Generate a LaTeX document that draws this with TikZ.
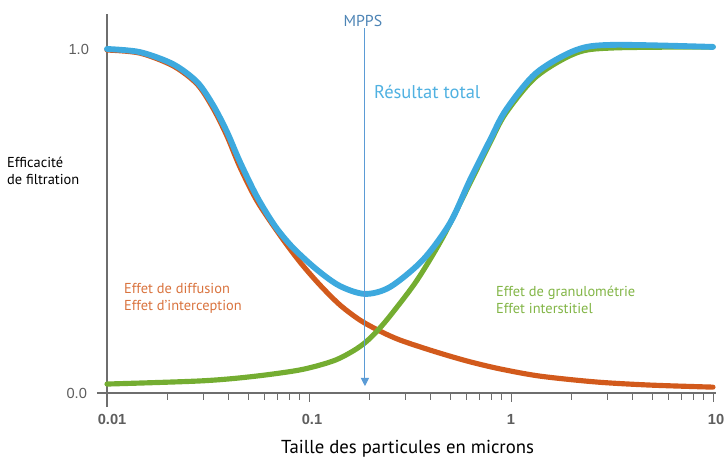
\documentclass[tikz,border=0pt]{standalone}
\usepackage{fontspec}
\setmainfont{PT Sans}
\newfontfamily\tickfont{Liberation Sans}
\usetikzlibrary{positioning, arrows.meta}
\definecolor{totalblue}{HTML}{3DA9DE}
\definecolor{diffred}{HTML}{D25A1C}
\definecolor{granugreen}{HTML}{74AD31}
\definecolor{mppsblue}{HTML}{5B9BD5}
\definecolor{axisgray}{HTML}{6E6E6E}
\tikzset{
axisline/.style={draw=axisgray, line width=1.2pt},
tickmark/.style={draw=axisgray, line width=0.8pt},
xticklabel/.style={font=\tickfont\bfseries\fontsize{12.5}{14}\selectfont, text=axisgray!85!black},
yticklabel/.style={font=\tickfont\fontsize{12.5}{14}\selectfont, text=axisgray!85!black, anchor=east},
curve/.style={line width=4.4pt, line cap=round, line join=round},
sidelabel/.style={font=\fontsize{12.3}{15}\selectfont, anchor=west, align=left},
}

\begin{document}
\begin{tikzpicture}[x=6.06cm, y=10.32cm]
    \useasboundingbox (-0.5297,-0.1948) rectangle (3.0644,1.1424);

    %axes
    \coordinate (xstart) at (-0.05,0);
    \coordinate (xend)   at (3.015,0);
    \coordinate (ytop)   at (0,1.102);
    \coordinate (ybot)   at (0,-0.041);
    \draw[axisline] (xstart)--(xend);
    \draw[axisline] (ybot)--(ytop);

    % ticks on log scale
    \foreach \d in {0,1,2}{
        \foreach \m in {2,...,9}{
            \draw[tickmark] ({\d+log10(\m)},0) -- ++(0,-0.020);
        }
    }
    \foreach \d in {1,2,3}{
        \draw[tickmark] (\d,0) -- ++(0,-0.026);
    }

    %tick labels
    \node[xticklabel] (t001) at (0.025,-0.0756) {0.01};
    \node[xticklabel]  (t01) at (1.015,-0.0756) {0.1};
    \node[xticklabel]   (t1) at (2.0,-0.0756)   {1};
    \node[xticklabel]  (t10) at (3.015,-0.0756) {10};
    \node[yticklabel]   (y1) at (-0.069,1.0)    {1.0};
    \node[yticklabel]   (y0) at (-0.079,0)      {0.0};

    %axis titles
    \node[font=\fontsize{16}{18}\selectfont, anchor=base, inner sep=0pt] (xtitle) at (1.488,-0.176) {Taille des particules en microns};
    \node[sidelabel, font=\fontsize{12.3}{14.5}\selectfont] (ytitle) at (-0.515,0.645) {Efficacité\\de filtration};

    %curves
    \draw[curve, diffred] plot[smooth] coordinates {
        (0,0.997) (0.163,0.988) (0.327,0.951) (0.446,0.898) (0.525,0.828)
        (0.594,0.747) (0.658,0.657) (0.743,0.558) (0.856,0.459) (0.955,0.381)
        (1.054,0.314) (1.153,0.256) (1.252,0.212) (1.351,0.180) (1.450,0.154)
        (1.614,0.122) (1.782,0.093) (1.946,0.070) (2.144,0.049) (2.421,0.032)
        (2.688,0.023) (3.0,0.017)};
    \draw[curve, granugreen] plot[smooth] coordinates {
        (0,0.026) (0.460,0.035) (0.708,0.047) (0.955,0.067) (1.119,0.093)
        (1.218,0.122) (1.287,0.151) (1.351,0.189) (1.416,0.235) (1.535,0.328)
        (1.663,0.453) (1.797,0.610) (1.896,0.727) (1.975,0.814) (2.124,0.919)
        (2.322,0.988) (2.505,1.003) (3.0,1.006)};
    \draw[curve, totalblue, line width=5pt] plot[smooth] coordinates {
        (0,1.0) (0.163,0.991) (0.327,0.956) (0.446,0.904) (0.525,0.837)
        (0.594,0.759) (0.658,0.672) (0.743,0.570) (0.832,0.485) (0.921,0.422)
        (1.040,0.358) (1.153,0.311) (1.277,0.288) (1.401,0.308) (1.564,0.387)
        (1.698,0.494) (1.797,0.619) (1.896,0.735) (1.975,0.823) (2.124,0.930)
        (2.322,0.997) (2.505,1.012) (3.0,1.006)};

    %labels
    \node[sidelabel, text=diffred!85!white] (diff) at (0.064,0.275)
        {Effet de diffusion\\Effet d’interception};
    \node[sidelabel, text=granugreen!90!white] (granu) at (1.906,0.270)
        {Effet de granulométrie\\Effet interstitiel};
    \node[anchor=west, text=totalblue!90!white, font=\fontsize{15.8}{18}\selectfont] (total) at (1.302,0.875) {Résultat total};

    %MPPS marker
    \node[text=mppsblue!85!black, font=\fontsize{13.5}{15}\selectfont, inner sep=1pt] (mpps) at (1.267,1.081) {MPPS};
    \coordinate (mppsbase) at (1.277,0.02);
    \draw[mppsblue, line width=0.8pt, -{Triangle[width=7pt,length=7pt]}] (mppsbase |- mpps.south) -- (mppsbase);

\end{tikzpicture}
\end{document}
